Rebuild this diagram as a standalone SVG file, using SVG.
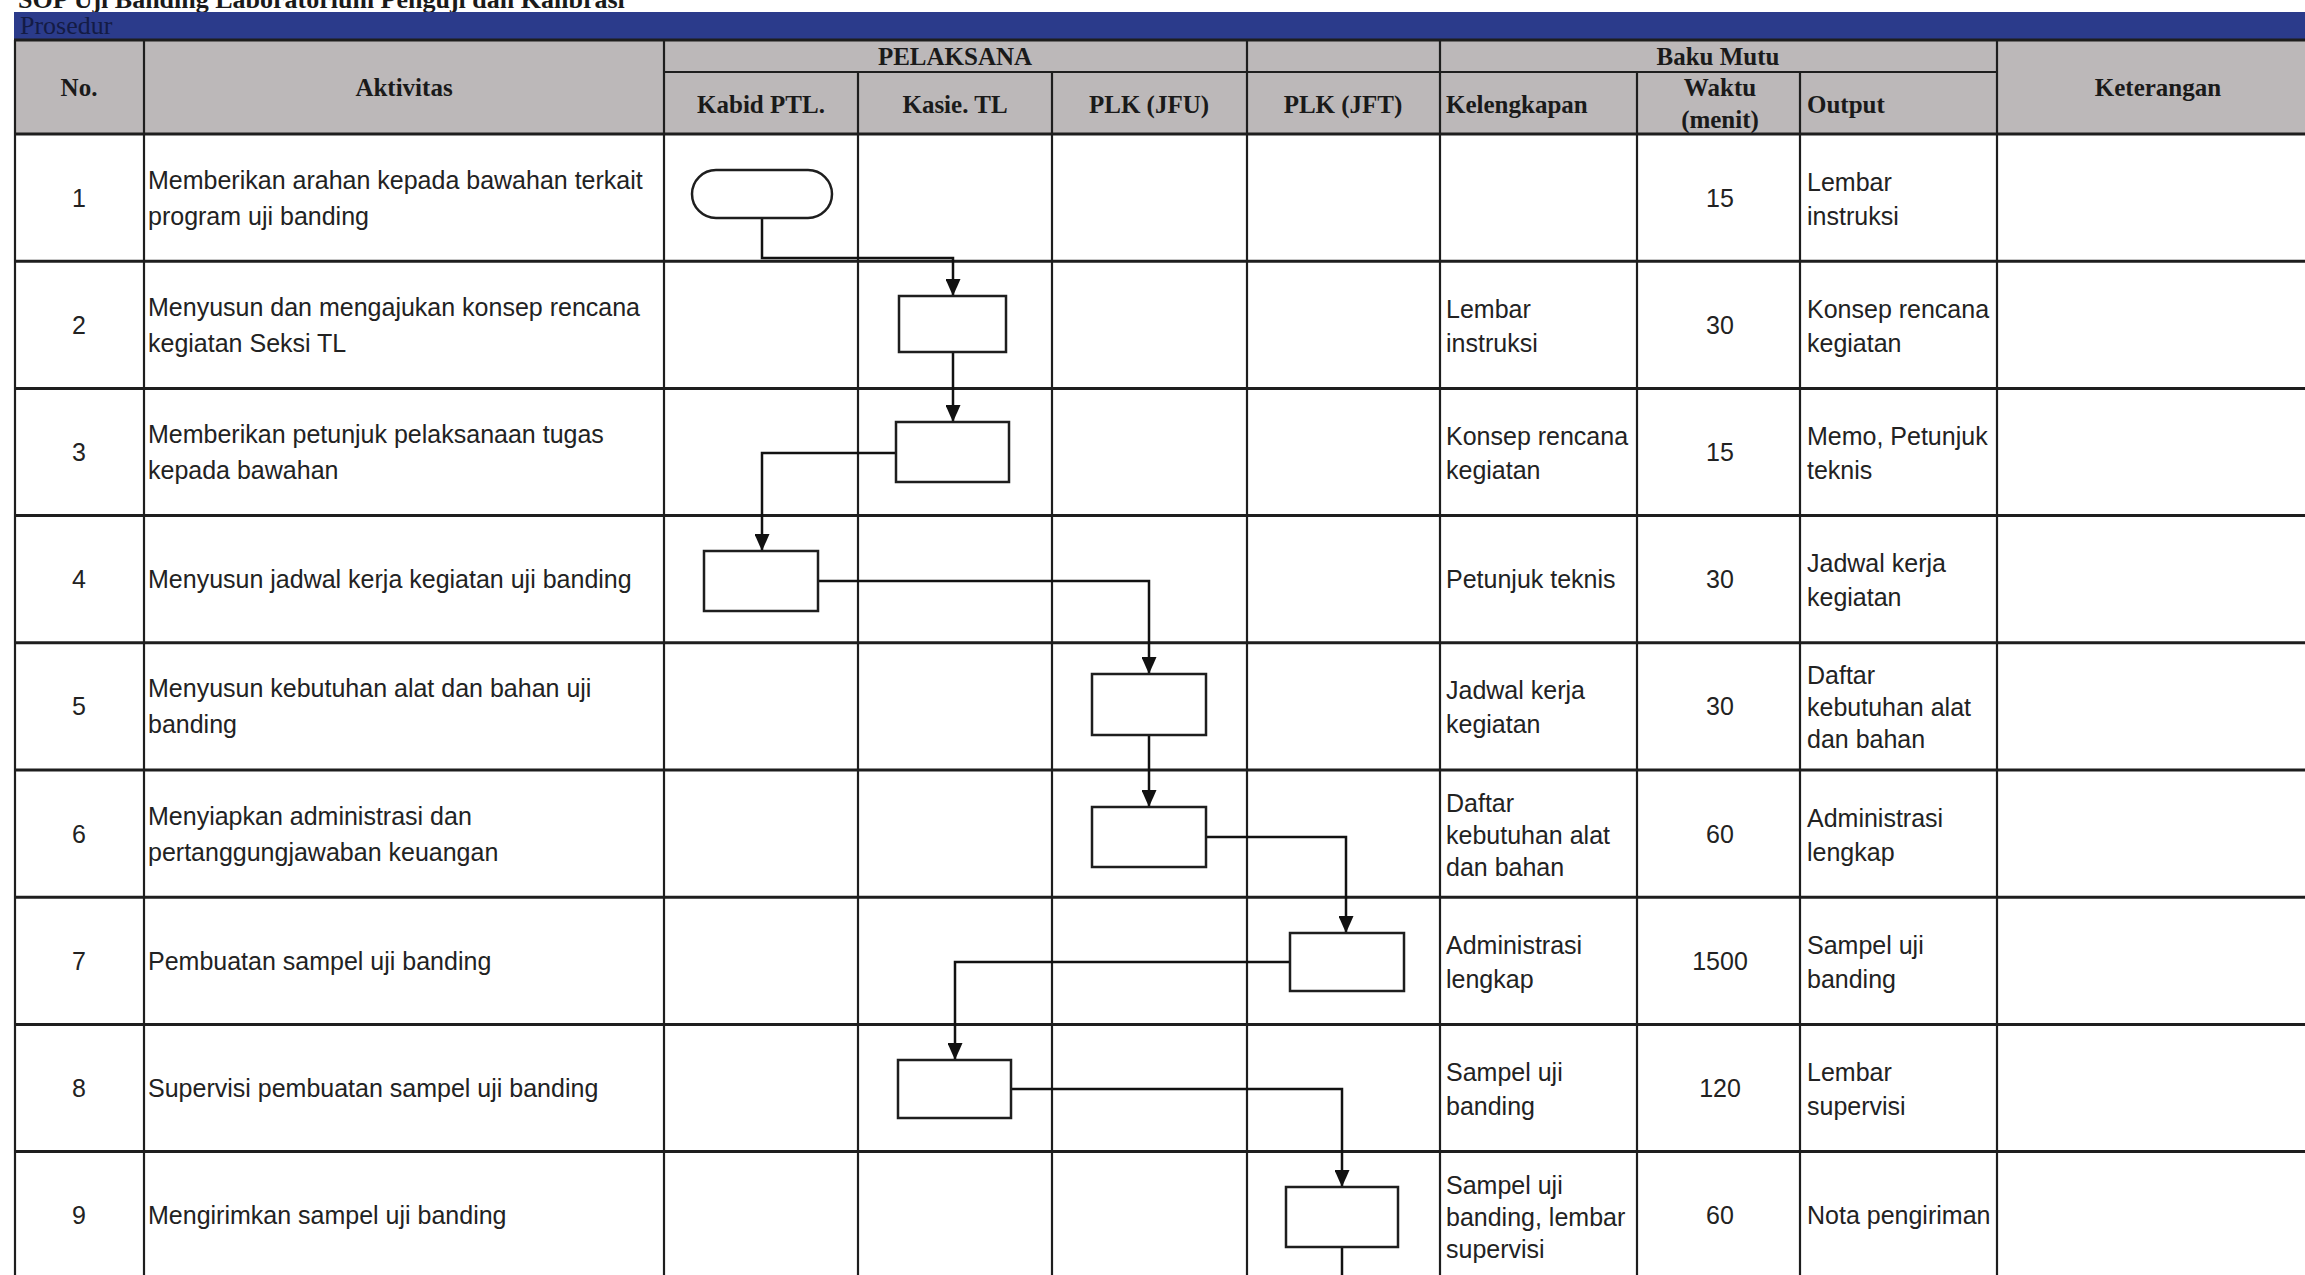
<svg xmlns="http://www.w3.org/2000/svg" width="2305" height="1275" viewBox="0 0 2305 1275">
<style>
.h{font-family:"Liberation Serif",serif;font-weight:bold;font-size:25px;fill:#1a1a1a}
.t{font-family:"Liberation Sans",Arial,sans-serif;font-size:25px;fill:#222}
.c{text-anchor:middle}
.grid{stroke:#1e1e1e;stroke-width:2.2;fill:none}
.row{stroke:#1e1e1e;stroke-width:3;fill:none}
.shape{fill:#fff;stroke:#1e1e1e;stroke-width:2.5}
.conn{fill:none;stroke:#111;stroke-width:2.5;marker-end:url(#arr)}
.plain{fill:none;stroke:#111;stroke-width:2.5}
</style>
<defs>
<marker id="arr" markerUnits="userSpaceOnUse" markerWidth="17" markerHeight="15" refX="17" refY="7.5" orient="auto" viewBox="0 0 17 15">
<path d="M0,0 L17,7.5 L0,15 Z" fill="#111"/>
</marker>
</defs>
<rect width="2305" height="1275" fill="#fff"/>

<!-- title -->
<text x="18" y="8" font-family="Liberation Serif,serif" font-weight="bold" font-size="26" fill="#1a1a1a">SOP Uji Banding Laboratorium Penguji dan Kalibrasi</text>
<!-- band -->
<rect x="14" y="12" width="2291" height="28" fill="#2b3b8b"/>
<text x="20" y="34" font-family="Liberation Serif,serif" font-size="26" fill="#141b45">Prosedur</text>

<!-- header background -->
<rect x="14" y="40" width="2291" height="94" fill="#bcb8b9"/>

<g id="grid">
<line class="row" x1="14" y1="40" x2="2305" y2="40"/>
<line class="grid" x1="664" y1="72" x2="1997" y2="72"/>
<line class="row" x1="14" y1="134" x2="2305" y2="134"/>
<line class="row" x1="14" y1="261.2" x2="2305" y2="261.2"/>
<line class="row" x1="14" y1="388.4" x2="2305" y2="388.4"/>
<line class="row" x1="14" y1="515.6" x2="2305" y2="515.6"/>
<line class="row" x1="14" y1="642.8" x2="2305" y2="642.8"/>
<line class="row" x1="14" y1="770" x2="2305" y2="770"/>
<line class="row" x1="14" y1="897.2" x2="2305" y2="897.2"/>
<line class="row" x1="14" y1="1024.4" x2="2305" y2="1024.4"/>
<line class="row" x1="14" y1="1151.6" x2="2305" y2="1151.6"/>
<line class="grid" x1="15" y1="40" x2="15" y2="1275"/>
<line class="grid" x1="144" y1="40" x2="144" y2="1275"/>
<line class="grid" x1="664" y1="40" x2="664" y2="1275"/>
<line class="grid" x1="858" y1="72" x2="858" y2="1275"/>
<line class="grid" x1="1052" y1="72" x2="1052" y2="1275"/>
<line class="grid" x1="1247" y1="40" x2="1247" y2="1275"/>
<line class="grid" x1="1440" y1="40" x2="1440" y2="1275"/>
<line class="grid" x1="1637" y1="72" x2="1637" y2="1275"/>
<line class="grid" x1="1800" y1="72" x2="1800" y2="1275"/>
<line class="grid" x1="1997" y1="40" x2="1997" y2="1275"/>
</g>

<g id="header">
<text class="h c" x="79" y="96">No.</text>
<text class="h c" x="404" y="96">Aktivitas</text>
<text class="h c" x="955" y="65" font-size="23">PELAKSANA</text>
<text class="h c" x="1718" y="65">Baku Mutu</text>
<text class="h c" x="761" y="113">Kabid PTL.</text>
<text class="h c" x="955" y="113">Kasie. TL</text>
<text class="h c" x="1149" y="113">PLK (JFU)</text>
<text class="h c" x="1343" y="113">PLK (JFT)</text>
<text class="h" x="1446" y="113">Kelengkapan</text>
<text class="h c" x="1720" y="96">Waktu</text>
<text class="h c" x="1720" y="128">(menit)</text>
<text class="h" x="1807" y="113">Output</text>
<text class="h c" x="2158" y="96">Keterangan</text>
</g>

<g id="row1">
<text class="t c" x="79" y="206.6">1</text>
<text class="t" x="148" y="188.6">Memberikan arahan kepada bawahan terkait</text>
<text class="t" x="148" y="224.6">program uji banding</text>
<text class="t c" x="1720" y="206.6">15</text>
<text class="t" x="1807" y="190.6">Lembar</text>
<text class="t" x="1807" y="224.6">instruksi</text>
</g>
<g id="row2">
<text class="t c" x="79" y="333.8">2</text>
<text class="t" x="148" y="315.8">Menyusun dan mengajukan konsep rencana</text>
<text class="t" x="148" y="351.8">kegiatan Seksi TL</text>
<text class="t" x="1446" y="317.8">Lembar</text>
<text class="t" x="1446" y="351.8">instruksi</text>
<text class="t c" x="1720" y="333.8">30</text>
<text class="t" x="1807" y="317.8">Konsep rencana</text>
<text class="t" x="1807" y="351.8">kegiatan</text>
</g>
<g id="row3">
<text class="t c" x="79" y="461">3</text>
<text class="t" x="148" y="443">Memberikan petunjuk pelaksanaan tugas</text>
<text class="t" x="148" y="479">kepada bawahan</text>
<text class="t" x="1446" y="445">Konsep rencana</text>
<text class="t" x="1446" y="479">kegiatan</text>
<text class="t c" x="1720" y="461">15</text>
<text class="t" x="1807" y="445">Memo, Petunjuk</text>
<text class="t" x="1807" y="479">teknis</text>
</g>
<g id="row4">
<text class="t c" x="79" y="588.2">4</text>
<text class="t" x="148" y="588.2">Menyusun jadwal kerja kegiatan uji banding</text>
<text class="t" x="1446" y="588.2">Petunjuk teknis</text>
<text class="t c" x="1720" y="588.2">30</text>
<text class="t" x="1807" y="572.2">Jadwal kerja</text>
<text class="t" x="1807" y="606.2">kegiatan</text>
</g>
<g id="row5">
<text class="t c" x="79" y="715.4">5</text>
<text class="t" x="148" y="697.4">Menyusun kebutuhan alat dan bahan uji</text>
<text class="t" x="148" y="733.4">banding</text>
<text class="t" x="1446" y="699.4">Jadwal kerja</text>
<text class="t" x="1446" y="733.4">kegiatan</text>
<text class="t c" x="1720" y="715.4">30</text>
<text class="t" x="1807" y="684.4">Daftar</text>
<text class="t" x="1807" y="716.4">kebutuhan alat</text>
<text class="t" x="1807" y="748.4">dan bahan</text>
</g>
<g id="row6">
<text class="t c" x="79" y="842.6">6</text>
<text class="t" x="148" y="824.6">Menyiapkan administrasi dan</text>
<text class="t" x="148" y="860.6">pertanggungjawaban keuangan</text>
<text class="t" x="1446" y="811.6">Daftar</text>
<text class="t" x="1446" y="843.6">kebutuhan alat</text>
<text class="t" x="1446" y="875.6">dan bahan</text>
<text class="t c" x="1720" y="842.6">60</text>
<text class="t" x="1807" y="826.6">Administrasi</text>
<text class="t" x="1807" y="860.6">lengkap</text>
</g>
<g id="row7">
<text class="t c" x="79" y="969.8">7</text>
<text class="t" x="148" y="969.8">Pembuatan sampel uji banding</text>
<text class="t" x="1446" y="953.8">Administrasi</text>
<text class="t" x="1446" y="987.8">lengkap</text>
<text class="t c" x="1720" y="969.8">1500</text>
<text class="t" x="1807" y="953.8">Sampel uji</text>
<text class="t" x="1807" y="987.8">banding</text>
</g>
<g id="row8">
<text class="t c" x="79" y="1097">8</text>
<text class="t" x="148" y="1097">Supervisi pembuatan sampel uji banding</text>
<text class="t" x="1446" y="1081">Sampel uji</text>
<text class="t" x="1446" y="1115">banding</text>
<text class="t c" x="1720" y="1097">120</text>
<text class="t" x="1807" y="1081">Lembar</text>
<text class="t" x="1807" y="1115">supervisi</text>
</g>
<g id="row9">
<text class="t c" x="79" y="1224.2">9</text>
<text class="t" x="148" y="1224.2">Mengirimkan sampel uji banding</text>
<text class="t" x="1446" y="1194">Sampel uji</text>
<text class="t" x="1446" y="1226">banding, lembar</text>
<text class="t" x="1446" y="1258">supervisi</text>
<text class="t c" x="1720" y="1224.2">60</text>
<text class="t" x="1807" y="1224.2">Nota pengiriman</text>
</g>

<g id="connectors">
<path class="conn" d="M762,218 V258 H953 V296"/>
<path class="conn" d="M953,352 V422"/>
<path class="conn" d="M896,453 H762 V551"/>
<path class="conn" d="M818,581 H1149 V674"/>
<path class="conn" d="M1149,735 V807"/>
<path class="conn" d="M1206,837 H1346 V933"/>
<path class="conn" d="M1290,962 H955 V1060"/>
<path class="conn" d="M1011,1089 H1342 V1187"/>
<path class="plain" d="M1342,1247 V1275"/>
</g>

<g id="n1"><rect class="shape" x="692" y="170" width="140" height="48" rx="24" ry="24"/></g>
<g id="n2"><rect class="shape" x="899" y="296" width="107" height="56"/></g>
<g id="n3"><rect class="shape" x="896" y="422" width="113" height="60"/></g>
<g id="n4"><rect class="shape" x="704" y="551" width="114" height="60"/></g>
<g id="n5"><rect class="shape" x="1092" y="674" width="114" height="61"/></g>
<g id="n6"><rect class="shape" x="1092" y="807" width="114" height="60"/></g>
<g id="n7"><rect class="shape" x="1290" y="933" width="114" height="58"/></g>
<g id="n8"><rect class="shape" x="898" y="1060" width="113" height="58"/></g>
<g id="n9"><rect class="shape" x="1286" y="1187" width="112" height="60"/></g>
</svg>
